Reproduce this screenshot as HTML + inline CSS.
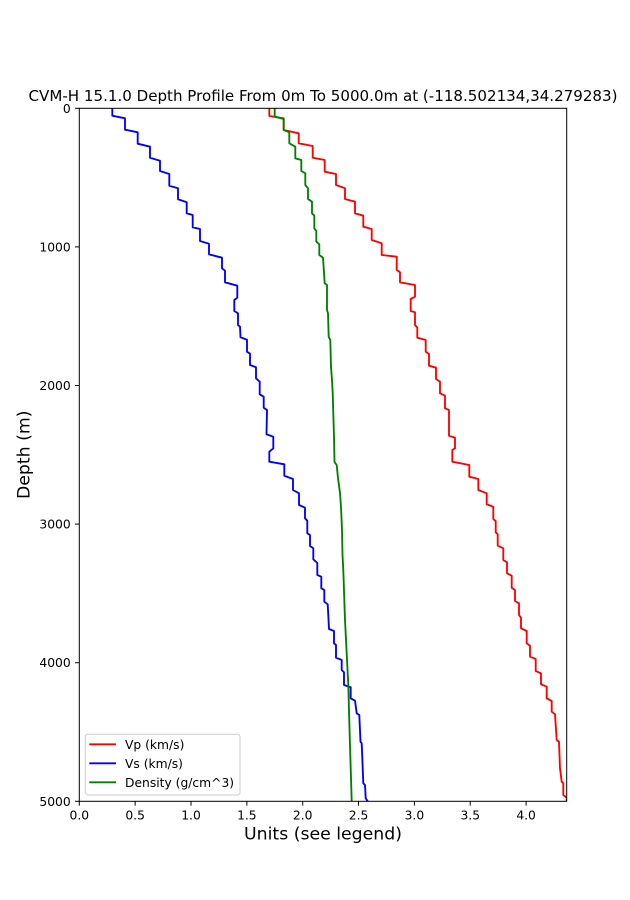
<!DOCTYPE html>
<html>
<head>
<meta charset="utf-8">
<style>
  html, body { margin:0; padding:0; background:#ffffff; }
  svg { display:block; }
  text { font-family: "DejaVu Sans", "Liberation Sans", sans-serif; fill:#000; }
</style>
</head>
<body>
<svg width="630" height="900" viewBox="0 0 630 900" xmlns="http://www.w3.org/2000/svg">
  <defs>
    <clipPath id="ax">
      <rect x="79.3" y="108.3" width="487.4" height="693"/>
    </clipPath>
  </defs>
  <rect x="0" y="0" width="630" height="900" fill="#ffffff"/>
  <rect x="79.3" y="108.3" width="487.4" height="693" fill="#ffffff"/>

  <!-- Title -->
  <text x="323" y="101" font-size="14.8" text-anchor="middle" textLength="589" lengthAdjust="spacingAndGlyphs">CVM-H 15.1.0 Depth Profile From 0m To 5000.0m at (-118.502134,34.279283)</text>

  <g clip-path="url(#ax)" fill="none" stroke-width="1.85" stroke-linejoin="round" stroke-linecap="square">
    <!-- Vp -->
    <polyline stroke="#ff0000" points="
269.3,108.3 269.3,116 283.7,118.3 283.7,130 298.7,133.3 298.7,143.3 312.7,146 312.7,157.7 324.7,160 324.7,171.7
336,174 336,185 345,188.3 345,199 355,201.7 355,213.3 363.3,215.7 363.3,226.7 371.7,229 371.7,240
381.7,243.3 381.7,255 396.7,256.7 396.7,270 400,272.3 400,282.3 415,285 415,296.7 410.7,299 410.7,311
415,312.3 415,325 417.3,327.7 417.3,337.7 425.7,340 425.7,351.7 429,354 429,365.7 436,367.7 436,379
440,381.7 440,393.3 445,395.7 445,408.3 449,410 449,435.7 455,437.7 455,448.3 452.3,450 452.3,461.7
469.3,465 469.3,476.7 478.3,479 478.3,490 486.7,493.3 486.7,504.3 493.3,506.7 493.3,519 495.7,521 495.7,532.3
497.7,534.3 497.7,545.7 503.3,548.3 503.3,560 507,562.3 507,573.3 511.7,575.7 511.7,587.7 515,590 515,601
519,603.3 519,615 521,617.7 521,628.3 526.7,631 526.7,643.3 530,645.7 530,656.7 535.7,659 535.7,671
541,673.3 541,684.3 546.7,686.7 546.7,698.3 551.7,701 551.7,711.7 555,714.3 556.7,740 559,741.7 560,768.3
561.7,781.7 563.3,783.3 563.3,795 566.7,797.7 566.7,801.3"/>
    <!-- Vs -->
    <polyline stroke="#0000ff" points="
112.3,108.3 112.3,115.7 125,118.3 125,129.7 137.7,132.3 137.7,143.7 150,146.7 150,157.7 160,160.7 160,171
169.3,174 169.3,185.7 178,188.3 178,199.3 186.7,202.3 186.7,213.3 192.7,215 192.7,227.3 200,229 200,241
209,243.7 209,254.3 222,257.7 222,268.3 225,270.7 225,282.3 237.3,285.7 237.3,297.7 234.3,300 234.3,311
238,313.3 238,325 240,326.7 240.5,337.3 247,339.7 247,351.7 250,353.7 250,365 256,367.3 256,378.3
259.7,381.7 259.7,394.3 263.7,396.7 263.7,407.7 267,410 266.5,434.3 273.3,436.7 273.3,448.3 269.3,451.7 269.3,461.7
284.3,464.3 284.3,475.7 293,479 293,490 299,493.3 299,505 305,507.7 305,518.3 307.3,520.7 307.3,533.3
310,535 310,546 313.3,548.3 313.3,559.3 317.3,563 317.3,575 321.3,576.7 321.3,588.3 324.3,590 324.3,601.7
327.7,604.3 329,629 334,631 334,643.3 336,645 336,657.7 341.7,660 341.7,670 344,672.3 344,685
350.7,687.3 350.7,698.3 355,700.7 356.7,713.3 359.3,715 360.5,741.7 361.7,743.3 363.3,783.3 365,785 365.7,798.3
367.7,801.3"/>
    <!-- Density -->
    <polyline stroke="#008000" points="
274.7,108.3 274.7,116.7 283.7,119 283.7,130 289.3,132.3 289.3,143.3 295.3,146.7 295.3,158.3 301.3,160 301.3,171
305.3,173.3 305.3,185 308,188.3 308,199 312,201.7 312,213.3 314.3,215.7 314.3,228.3 316.3,231 316.3,241.7
319.3,244.3 319.3,255 323,257.7 324.7,283.3 327,285 327,310 328,313.3 328.7,336.7 330.3,340 331,367
332,380 332.7,393 334,437 334.5,462 336.7,465 338,478 340,493 341,507 342,530 342.5,555
343.3,570 345,620 348.3,685 349.3,722 351.7,801.3"/>
  </g>

  <!-- Axes frame -->
  <rect x="79.3" y="108.3" width="487.4" height="693" fill="none" stroke="#000" stroke-width="1"/>

  <!-- X ticks -->
  <g stroke="#000" stroke-width="1">
    <line x1="79.3" y1="801.3" x2="79.3" y2="805.6"/>
    <line x1="135.15" y1="801.3" x2="135.15" y2="805.6"/>
    <line x1="191" y1="801.3" x2="191" y2="805.6"/>
    <line x1="246.85" y1="801.3" x2="246.85" y2="805.6"/>
    <line x1="302.7" y1="801.3" x2="302.7" y2="805.6"/>
    <line x1="358.55" y1="801.3" x2="358.55" y2="805.6"/>
    <line x1="414.4" y1="801.3" x2="414.4" y2="805.6"/>
    <line x1="470.25" y1="801.3" x2="470.25" y2="805.6"/>
    <line x1="526.1" y1="801.3" x2="526.1" y2="805.6"/>
  </g>
  <g font-size="12.3" text-anchor="middle">
    <text x="79.3" y="819.5">0.0</text>
    <text x="135.15" y="819.5">0.5</text>
    <text x="191" y="819.5">1.0</text>
    <text x="246.85" y="819.5">1.5</text>
    <text x="302.7" y="819.5">2.0</text>
    <text x="358.55" y="819.5">2.5</text>
    <text x="414.4" y="819.5">3.0</text>
    <text x="470.25" y="819.5">3.5</text>
    <text x="526.1" y="819.5">4.0</text>
  </g>

  <!-- Y ticks -->
  <g stroke="#000" stroke-width="1">
    <line x1="75" y1="108.3" x2="79.3" y2="108.3"/>
    <line x1="75" y1="246.9" x2="79.3" y2="246.9"/>
    <line x1="75" y1="385.5" x2="79.3" y2="385.5"/>
    <line x1="75" y1="524.1" x2="79.3" y2="524.1"/>
    <line x1="75" y1="662.7" x2="79.3" y2="662.7"/>
    <line x1="75" y1="801.3" x2="79.3" y2="801.3"/>
  </g>
  <g font-size="12.3" text-anchor="end">
    <text x="70.7" y="112.8">0</text>
    <text x="70.7" y="251.4">1000</text>
    <text x="70.7" y="390">2000</text>
    <text x="70.7" y="528.6">3000</text>
    <text x="70.7" y="667.2">4000</text>
    <text x="70.7" y="805.8">5000</text>
  </g>

  <!-- Axis labels -->
  <text x="323" y="839.5" font-size="17.3" text-anchor="middle" textLength="158" lengthAdjust="spacingAndGlyphs">Units (see legend)</text>
  <text transform="translate(29.3,454.8) rotate(-90)" font-size="17.3" text-anchor="middle" textLength="88.5" lengthAdjust="spacingAndGlyphs">Depth (m)</text>

  <!-- Legend -->
  <rect x="85.3" y="734.3" width="154.7" height="60.7" rx="2.5" ry="2.5" fill="#ffffff" fill-opacity="0.8" stroke="#cccccc" stroke-width="1"/>
  <g stroke-width="1.85">
    <line x1="89.3" y1="744.3" x2="116" y2="744.3" stroke="#ff0000"/>
    <line x1="89.3" y1="763.3" x2="116" y2="763.3" stroke="#0000ff"/>
    <line x1="89.3" y1="782.3" x2="116" y2="782.3" stroke="#008000"/>
  </g>
  <g font-size="12.3">
    <text x="125" y="748.8">Vp (km/s)</text>
    <text x="125" y="767.8">Vs (km/s)</text>
    <text x="125" y="786.8">Density (g/cm^3)</text>
  </g>
</svg>
</body>
</html>
